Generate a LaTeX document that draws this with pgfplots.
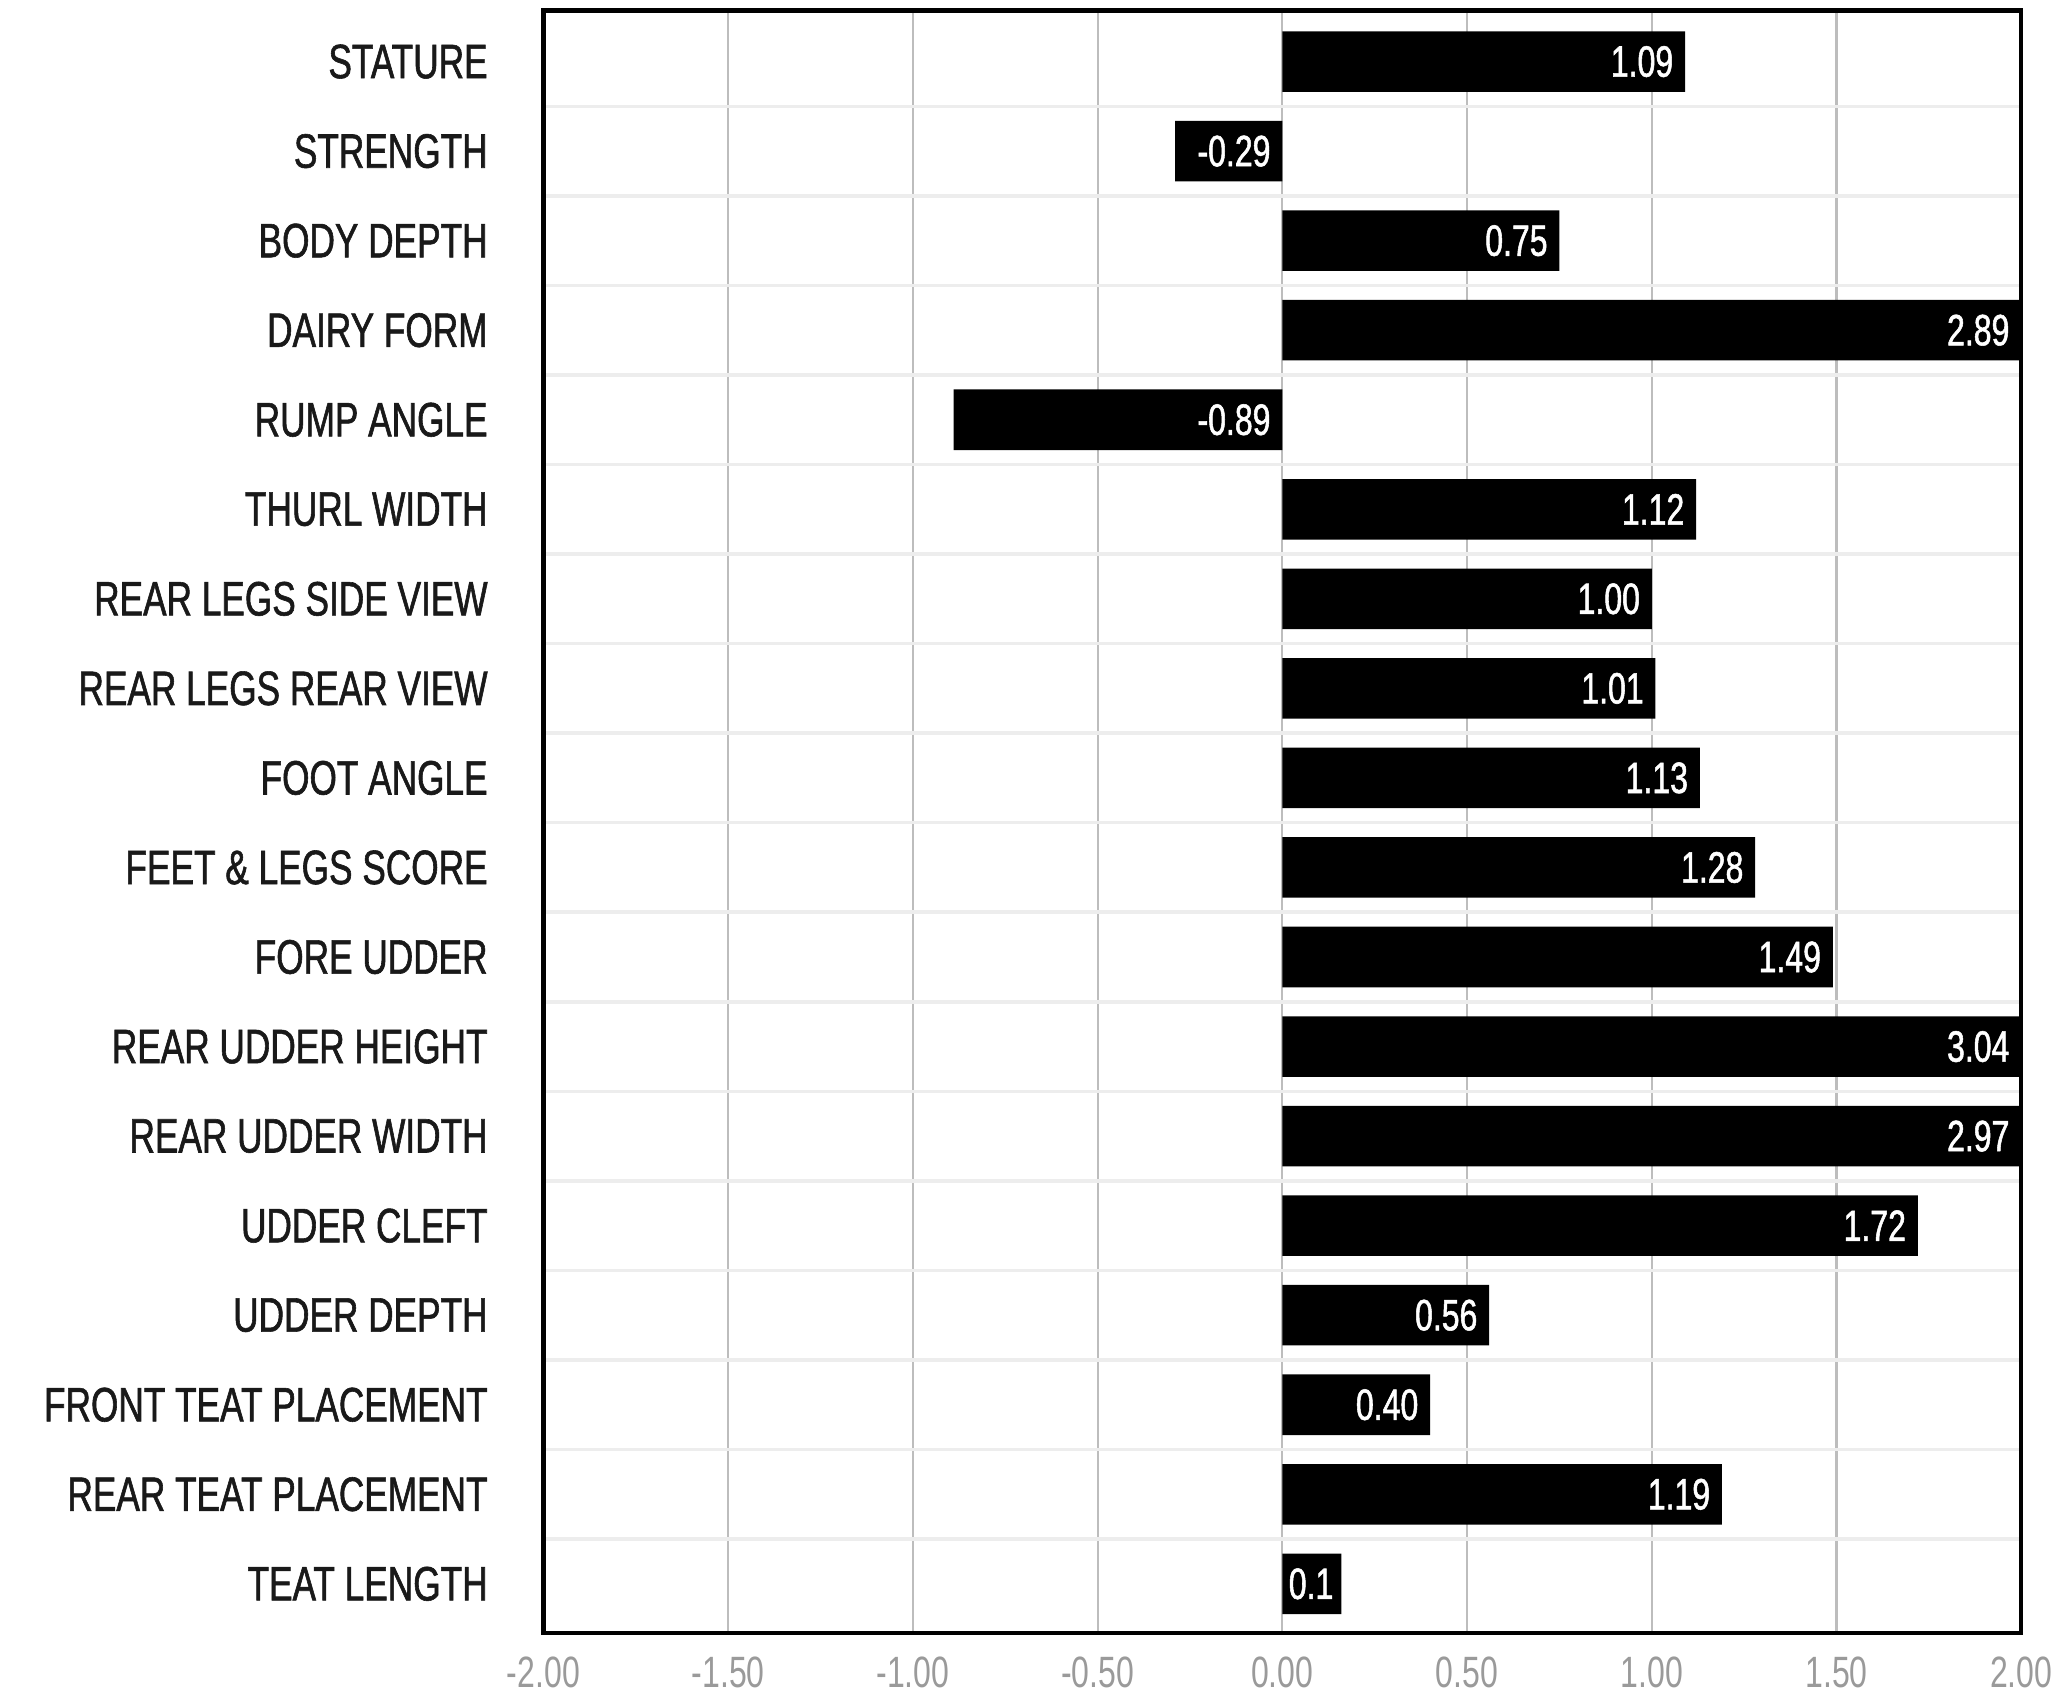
\documentclass[border=0pt]{standalone}
\usepackage{fontspec}
\setmainfont{Liberation Sans}[FakeStretch=0.73]
\newfontfamily\labfont{Liberation Sans}[FakeStretch=0.73, FakeBold=1.2]
\usepackage{pgfplots}
\pgfplotsset{compat=1.18}
\definecolor{ticklab}{HTML}{9A9A9A}
\definecolor{vgrid}{HTML}{BDBDBD}
\definecolor{hgrid}{HTML}{EDEDED}
\begin{document}
\begin{tikzpicture}
\begin{axis}[
    name=ax,
    scale only axis,
    width=336.9pt, height=369.9pt,
    xmin=-2, xmax=2, ymin=-0.55, ymax=17.57,
    xtick={-2,-1.5,...,2},
    ytick={0,...,17},
    yticklabels={TEAT LENGTH, REAR TEAT PLACEMENT, FRONT TEAT PLACEMENT, UDDER DEPTH,
        UDDER CLEFT, REAR UDDER WIDTH, REAR UDDER HEIGHT, FORE UDDER,
        FEET \& LEGS SCORE, FOOT ANGLE, REAR LEGS REAR VIEW, REAR LEGS SIDE VIEW,
        THURL WIDTH, RUMP ANGLE, DAIRY FORM, BODY DEPTH, STRENGTH, STATURE},
    minor ytick={0.5,1.5,...,16.5},
    xmajorgrids, yminorgrids,
    major grid style={vgrid, line width=0.5pt},
    minor grid style={hgrid, line width=0.8pt},
    major tick length=0pt, minor tick length=0pt,
    axis line style={black, line width=1pt},
    yticklabel style={font=\labfont\fontsize{11}{13}\selectfont, text=black!90, xshift=-9.2pt},
    xticklabel style={font=\fontsize{10}{12}\selectfont, text=ticklab, yshift=-2pt},
    xticklabel={\pgfmathprintnumber[fixed, fixed zerofill, precision=2, assume math mode=true]{\tick}},
    clip=true,
]
% bars
\addplot[xbar, bar width=13.8pt, fill=black, draw=none] coordinates {
    (1.09,17) (-0.29,16) (0.75,15) (2.89,14) (-0.89,13) (1.12,12)
    (1.00,11) (1.01,10) (1.13,9) (1.28,8) (1.49,7) (3.04,6)
    (2.97,5) (1.72,4) (0.56,3) (0.40,2) (1.19,1) (0.16,0)
};
% value labels at the visible bar end
\addplot[draw=none, mark=none, nodes near coords, point meta=explicit symbolic,
    nodes near coords style={anchor=east, text=white, xshift=-1.5pt, inner sep=1pt,
        font=\labfont\fontsize{10}{12}\selectfont}] coordinates {
    (1.09,17) [1.09] (0,16) [-0.29] (0.75,15) [0.75] (2,14) [2.89] (0,13) [-0.89]
    (1.12,12) [1.12] (1.00,11) [1.00] (1.01,10) [1.01] (1.13,9) [1.13]
    (1.28,8) [1.28] (1.49,7) [1.49] (2,6) [3.04] (2,5) [2.97] (1.72,4) [1.72]
    (0.56,3) [0.56] (0.40,2) [0.40] (1.19,1) [1.19] (0.17,0) [0.1]
};
\end{axis}
\path ([shift={(-123.9pt,-13.8pt)}]ax.south west) rectangle ([shift={(9.6pt,2.4pt)}]ax.north east);
\end{tikzpicture}
\end{document}
